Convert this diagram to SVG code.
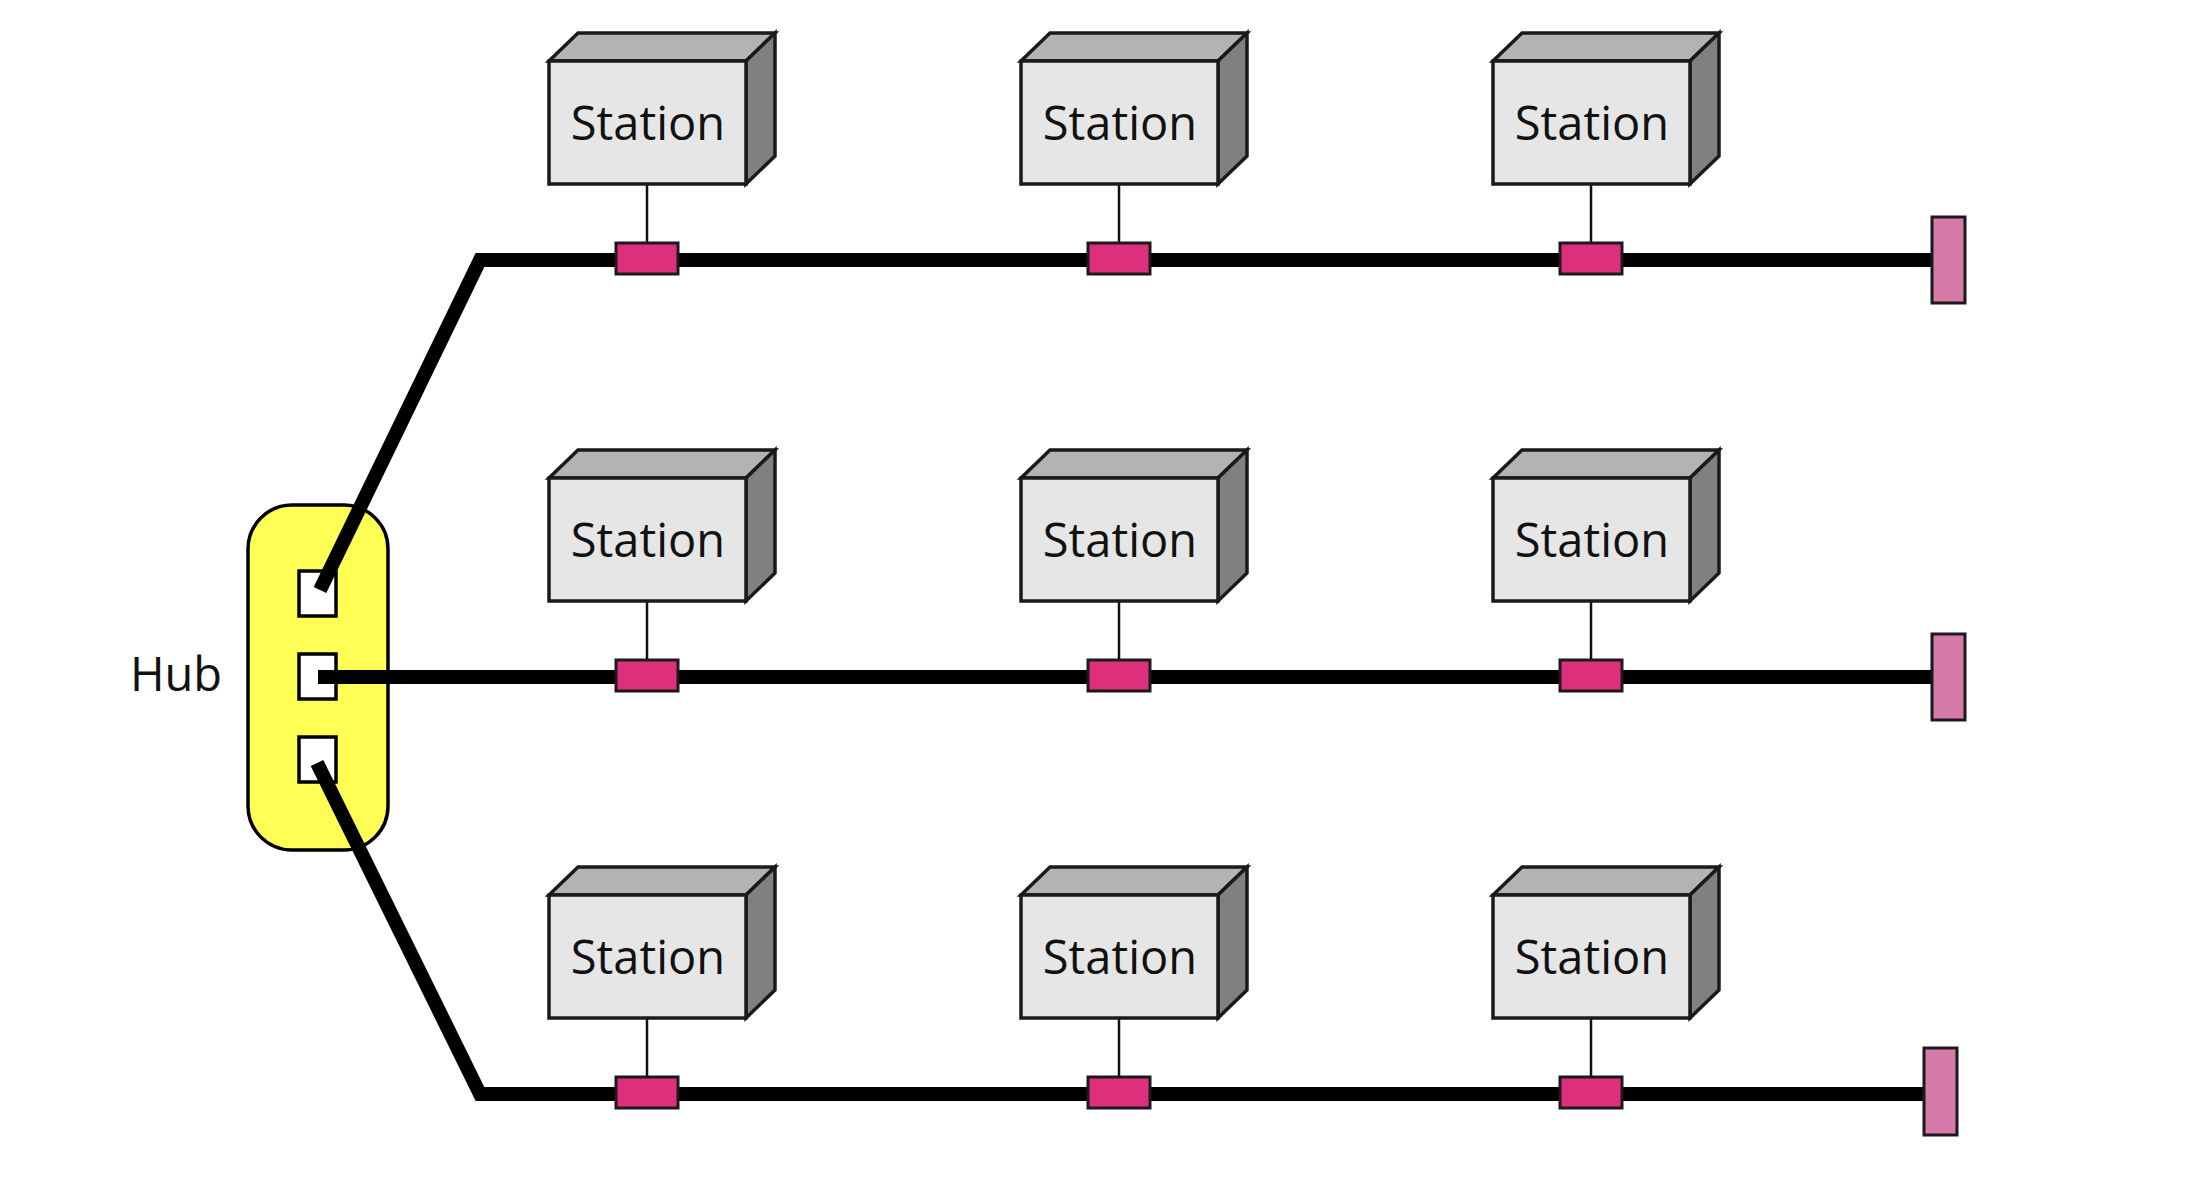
<svg xmlns="http://www.w3.org/2000/svg" width="2186" height="1180" viewBox="0 0 2186 1180">
<defs>
<style>
.front{fill:#e6e6e6;stroke:#1a1a1a;stroke-width:3.5;stroke-linejoin:miter}
.top{fill:#b3b3b3;stroke:#1a1a1a;stroke-width:3.5;stroke-linejoin:miter}
.side{fill:#808080;stroke:#1a1a1a;stroke-width:3.5;stroke-linejoin:miter}
.lbl{font-family:"Open Sans","Noto Sans",sans-serif;font-size:47px;fill:#111}
.bus{fill:none;stroke:#000;stroke-width:14;stroke-linejoin:miter}
.stem{stroke:#111;stroke-width:2.5}
.tap{fill:#de2f7c;stroke:#1a1a1a;stroke-width:3}
.term{fill:#d57aa9;stroke:#1a1a1a;stroke-width:3}
.port{fill:#fff;stroke:#000;stroke-width:3.5}
</style>
<g id="station">
<polygon class="top" points="0,0 29,-28 226,-28 197,0"/>
<polygon class="side" points="197,0 226,-28 226,95 197,123"/>
<rect class="front" x="0" y="0" width="197" height="123"/>
<text class="lbl" x="99" y="79" text-anchor="middle">Station</text>
</g>
</defs>

<g id="hub">
<rect x="248" y="505" width="140" height="345" rx="44" ry="44" fill="#ffff55" stroke="#000" stroke-width="3.5"/>
<rect class="port" x="299" y="571" width="37" height="45"/>
<rect class="port" x="299" y="654" width="37" height="45"/>
<rect class="port" x="299" y="737" width="37" height="45"/>
<text class="lbl" x="176" y="691" text-anchor="middle">Hub</text>
</g>

<g id="connectors">
<polyline class="bus" points="320,590 480,260 1931,260"/>
<polyline class="bus" points="318,677 1931,677"/>
<polyline class="bus" points="317,763 480,1094 1923,1094"/>
<line class="stem" x1="647" y1="184" x2="647" y2="242"/>
<line class="stem" x1="1119" y1="184" x2="1119" y2="242"/>
<line class="stem" x1="1591" y1="184" x2="1591" y2="242"/>
<line class="stem" x1="647" y1="601" x2="647" y2="659"/>
<line class="stem" x1="1119" y1="601" x2="1119" y2="659"/>
<line class="stem" x1="1591" y1="601" x2="1591" y2="659"/>
<line class="stem" x1="647" y1="1018" x2="647" y2="1076"/>
<line class="stem" x1="1119" y1="1018" x2="1119" y2="1076"/>
<line class="stem" x1="1591" y1="1018" x2="1591" y2="1076"/>
</g>

<g id="taps">
<rect class="tap" x="616" y="243" width="62" height="31"/>
<rect class="tap" x="1088" y="243" width="62" height="31"/>
<rect class="tap" x="1560" y="243" width="62" height="31"/>
<rect class="tap" x="616" y="660" width="62" height="31"/>
<rect class="tap" x="1088" y="660" width="62" height="31"/>
<rect class="tap" x="1560" y="660" width="62" height="31"/>
<rect class="tap" x="616" y="1077" width="62" height="31"/>
<rect class="tap" x="1088" y="1077" width="62" height="31"/>
<rect class="tap" x="1560" y="1077" width="62" height="31"/>
</g>

<g id="terminators">
<rect class="term" x="1932" y="217" width="33" height="86"/>
<rect class="term" x="1932" y="634" width="33" height="86"/>
<rect class="term" x="1924" y="1048" width="33" height="87"/>
</g>

<g id="station-r1c1"><use href="#station" x="549" y="61"/></g>
<g id="station-r1c2"><use href="#station" x="1021" y="61"/></g>
<g id="station-r1c3"><use href="#station" x="1493" y="61"/></g>
<g id="station-r2c1"><use href="#station" x="549" y="478"/></g>
<g id="station-r2c2"><use href="#station" x="1021" y="478"/></g>
<g id="station-r2c3"><use href="#station" x="1493" y="478"/></g>
<g id="station-r3c1"><use href="#station" x="549" y="895"/></g>
<g id="station-r3c2"><use href="#station" x="1021" y="895"/></g>
<g id="station-r3c3"><use href="#station" x="1493" y="895"/></g>
</svg>
